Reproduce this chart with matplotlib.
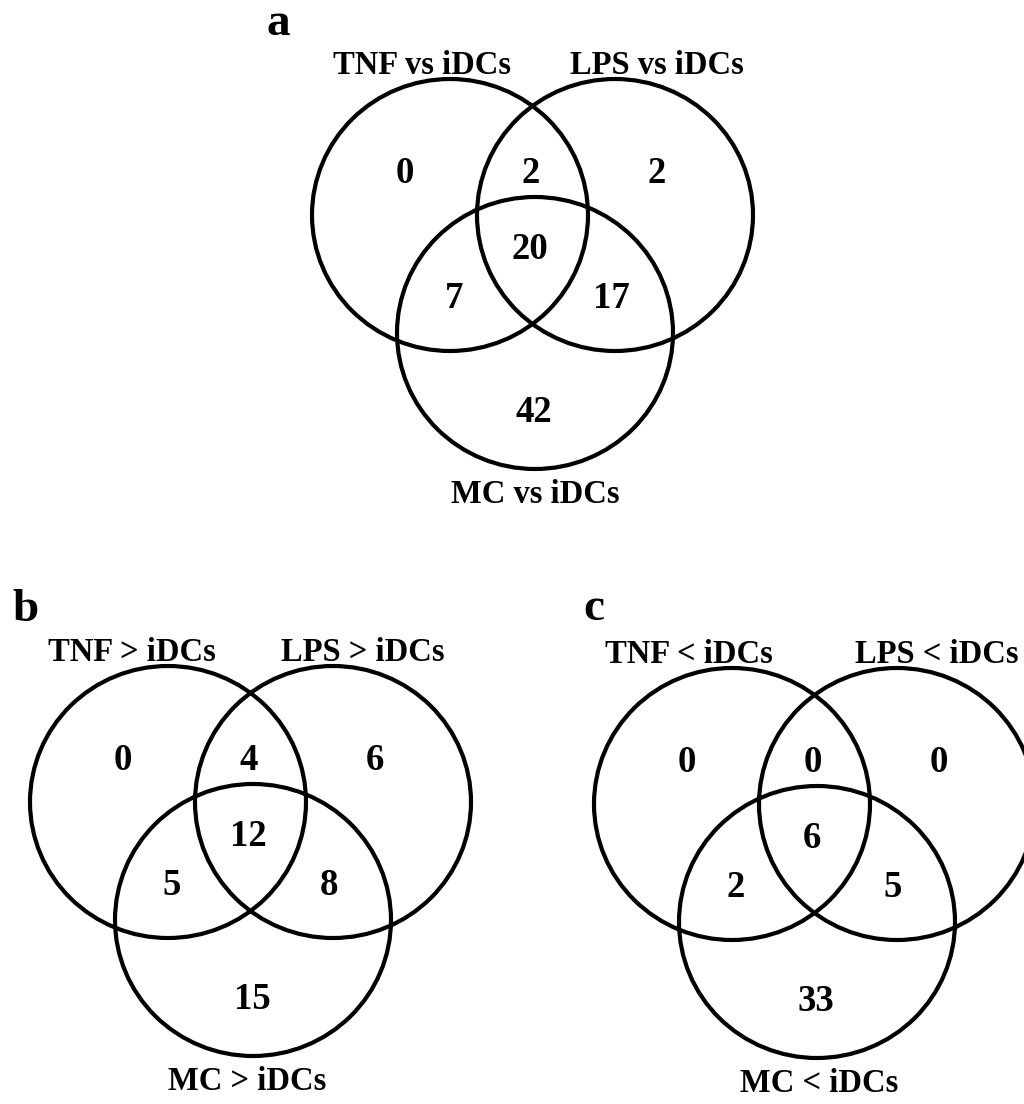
import matplotlib
matplotlib.use("Agg")
import matplotlib.pyplot as plt
from matplotlib.patches import Ellipse

plt.rcParams['font.family'] = ['Liberation Serif', 'DejaVu Serif']
plt.rcParams['font.weight'] = 'bold'

# region counts: TNF only, TNF&LPS, LPS only, all three, TNF&MC, LPS&MC, MC only
counts_a = [0, 2, 2, 20, 7, 17, 42]
counts_b = [0, 4, 6, 12, 5, 8, 15]
counts_c = [0, 0, 0, 6, 2, 5, 33]

sets_a = ['TNF vs iDCs', 'LPS vs iDCs', 'MC vs iDCs']
sets_b = ['TNF > iDCs', 'LPS > iDCs', 'MC > iDCs']
sets_c = ['TNF < iDCs', 'LPS < iDCs', 'MC < iDCs']

panel_letters = ['a', 'b', 'c']

# layout in pixel units (relative to the TNF circle centre)
circle_off = [(0, 0), (165, 0), (85, 118)]
num_off = [(-45, -32), (81, -32), (207, -32), (80, 44), (4, 93), (161, 93), (84, 207)]


def venn(ax, cx, cy, counts, names, label_x, letter, letter_xy):
    for dx, dy in circle_off:
        ax.add_patch(Ellipse((cx + dx, cy + dy), 276, 272, fill=False,
                             lw=3, ec='black'))
    for (dx, dy), n in zip(num_off, counts):
        ax.text(cx + dx, cy + dy, str(n), ha='center', va='baseline',
                fontsize=26.5, fontweight='bold')
    ax.text(label_x[0], cy - 141, names[0], ha='center', va='baseline',
            fontsize=23.5, fontweight='bold')
    ax.text(label_x[1], cy - 141, names[1], ha='center', va='baseline',
            fontsize=23.5, fontweight='bold')
    ax.text(label_x[2], cy + 288, names[2], ha='center', va='baseline',
            fontsize=23.5, fontweight='bold')
    ax.text(letter_xy[0], letter_xy[1], letter, ha='left', va='baseline',
            fontsize=34, fontweight='bold')


fig = plt.figure(figsize=(10.24, 11.04), dpi=100)
ax = fig.add_axes([0, 0, 1, 1])
ax.set_xlim(0, 1024)
ax.set_ylim(1104, 0)
ax.axis('off')

venn(ax, 450, 215, counts_a, sets_a, (422, 657, 535), panel_letters[0], (266, 35))
venn(ax, 168, 802, counts_b, sets_b, (132, 363, 247), panel_letters[1], (12, 621))
venn(ax, 732, 804, counts_c, sets_c, (689, 937, 819), panel_letters[2], (583, 620))

fig.savefig('out.png', dpi=100)
